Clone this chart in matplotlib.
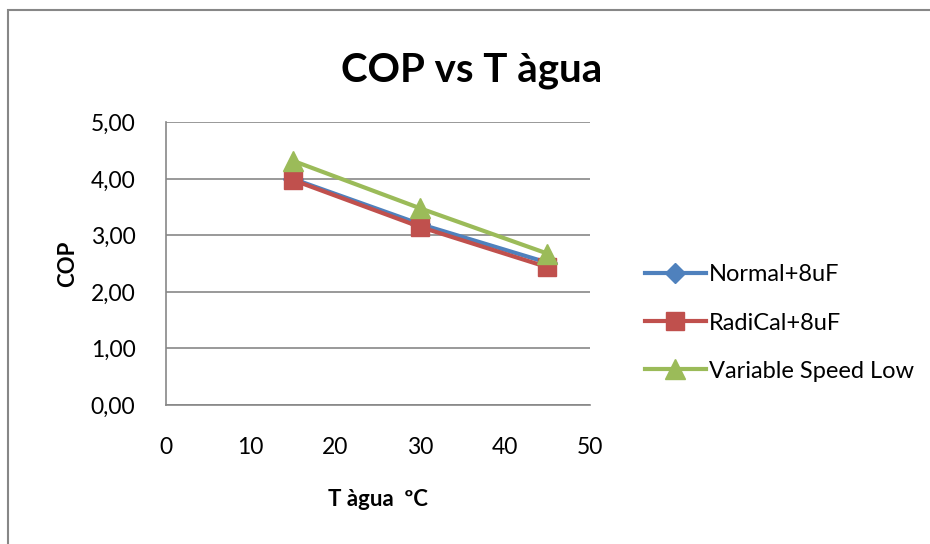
import matplotlib.pyplot as plt
from matplotlib.patches import Rectangle
from matplotlib.ticker import FuncFormatter

# Data
t_agua = [15, 30, 45]
normal_8uf = [4.00, 3.20, 2.52]
radical_8uf = [3.98, 3.15, 2.44]
var_speed_low = [4.32, 3.48, 2.68]

plt.rcParams['font.family'] = ['Lato', 'DejaVu Sans']

fig = plt.figure(figsize=(9.3, 5.44), dpi=100)
ax = fig.add_axes([0.1785, 0.2555, 0.4555, 0.5195])

# outer chart border (runs off the right and bottom edges)
fig.patches.append(Rectangle((8 / 930, -0.05), 1.1, 1 - 10 / 544 + 0.05,
                             transform=fig.transFigure, fill=False,
                             edgecolor='#878787', linewidth=1.5))

ax.plot(t_agua, normal_8uf, color='#4F81BD', lw=3, marker='D', ms=10,
        label='Normal+8uF')
ax.plot(t_agua, radical_8uf, color='#C0504D', lw=3, marker='s', ms=13,
        label='RadiCal+8uF')
ax.plot(t_agua, var_speed_low, color='#9BBB59', lw=3, marker='^', ms=14,
        label='Variable Speed Low')

ax.set_xlim(0, 50)
ax.set_ylim(0, 5)
ax.set_xticks([0, 10, 20, 30, 40, 50])
ax.set_yticks([0, 1, 2, 3, 4, 5])
ax.yaxis.set_major_formatter(FuncFormatter(lambda v, p: f"{v:.2f}".replace('.', ',')))
ax.grid(axis='y', color='#878787', lw=1.2)
ax.set_axisbelow(True)
for s in ['top', 'right']:
    ax.spines[s].set_visible(False)
for s in ['left', 'bottom']:
    ax.spines[s].set_color('#878787')
    ax.spines[s].set_linewidth(1.2)
ax.tick_params(length=0, labelsize=16.5)
ax.tick_params(axis='y', pad=22)
ax.tick_params(axis='x', pad=23)

ax.set_xlabel('T àgua  ºC', fontsize=16, fontweight='bold', labelpad=22)
ax.set_ylabel('COP', fontsize=16, fontweight='bold', labelpad=9)
fig.text(0.507, 0.871, 'COP vs T àgua', ha='center', va='center',
         fontsize=29, fontweight='bold')

ax.legend(loc='center left', bbox_to_anchor=(1.08, 0.29), frameon=False,
          fontsize=17, labelspacing=1.15, handlelength=2.6, handletextpad=0.1)

fig.savefig('out.png', dpi=100)
